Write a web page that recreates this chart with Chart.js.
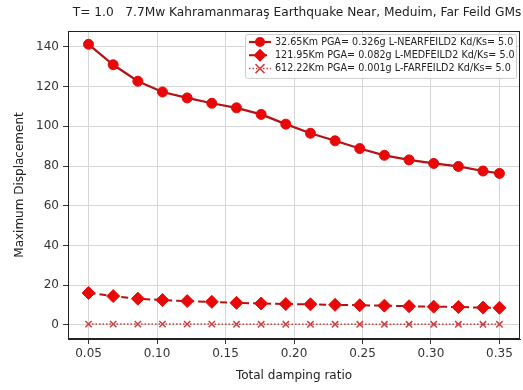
<!DOCTYPE html>
<html>
<head>
<meta charset="utf-8">
<script src="https://cdn.jsdelivr.net/npm/chart.js@4/dist/chart.umd.min.js"></script>
<style>
  html, body { margin: 0; padding: 0; background: #fff; }
  #wrap { width: 523px; height: 390px; }
</style>
</head>
<body>
<div id="wrap"><canvas id="chart" width="523" height="390"></canvas></div>
<script>
// damping ratios used for every record
const dampingRatios = [0.05, 0.068, 0.086, 0.104, 0.122, 0.14, 0.158, 0.176, 0.194,
  0.212, 0.23, 0.248, 0.266, 0.284, 0.302, 0.32, 0.338, 0.35];

// maximum displacement per record
const nearValues = [141.3, 131.0, 122.7, 117.3, 114.3, 111.6, 109.3, 106.0, 101.1,
  96.5, 92.7, 88.8, 85.4, 83.1, 81.3, 79.8, 77.5, 76.3];
const medValues = [16.1, 14.5, 13.2, 12.5, 12.0, 11.6, 11.1, 10.8, 10.5,
  10.4, 10.1, 9.9, 9.7, 9.4, 9.2, 9.0, 8.7, 8.6];
const farValues = [0.4, 0.4, 0.4, 0.4, 0.4, 0.4, 0.3, 0.3, 0.3,
  0.3, 0.3, 0.3, 0.3, 0.3, 0.3, 0.3, 0.3, 0.3];

const seriesLabels = [
  "32.65Km PGA= 0.326g L-NEARFEILD2 Kd/Ks= 5.0",
  "121.95Km PGA= 0.082g L-MEDFEILD2 Kd/Ks= 5.0",
  "612.22Km PGA= 0.001g L-FARFEILD2 Kd/Ks= 5.0",
];

const xTicks = [0.05, 0.10, 0.15, 0.20, 0.25, 0.30, 0.35];
const yTicks = [0, 20, 40, 60, 80, 100, 120, 140];

const chartTitle = "T= 1.0   7.7Mw Kahramanmaraş Earthquake Near, Meduim, Far Feild GMs";
const FONT = "'DejaVu Sans', sans-serif";

function toPoints(values) {
  return dampingRatios.map((x, i) => ({ x: x, y: values[i] }));
}

// box round the axes + title on top
const framePlugin = {
  id: "frame",
  afterDraw(chart) {
    const { ctx, chartArea: a } = chart;
    ctx.save();
    ctx.strokeStyle = "#222";
    ctx.lineWidth = 1;
    ctx.strokeRect(a.left + 0.5, a.top + 0.5, a.right - a.left - 1, a.bottom - a.top - 1);
    ctx.fillStyle = "#222";
    ctx.font = "12.2px " + FONT;
    ctx.textAlign = "center";
    ctx.textBaseline = "middle";
    ctx.fillText(chartTitle, 297, 13);
    ctx.restore();
  },
};

function drawMarker(ctx, style, x, y, r) {
  ctx.beginPath();
  if (style === "circle") {
    ctx.arc(x, y, r, 0, Math.PI * 2);
    ctx.fill();
  } else if (style === "rectRot") {
    ctx.moveTo(x, y - r);
    ctx.lineTo(x + r, y);
    ctx.lineTo(x, y + r);
    ctx.lineTo(x - r, y);
    ctx.closePath();
    ctx.fill();
  } else {
    ctx.moveTo(x - r, y - r);
    ctx.lineTo(x + r, y + r);
    ctx.moveTo(x + r, y - r);
    ctx.lineTo(x - r, y + r);
    ctx.stroke();
  }
}

// legend with line sample and marker, like matplotlib
const legendPlugin = {
  id: "mplLegend",
  afterDraw(chart) {
    const { ctx, chartArea: a } = chart;
    const boxRight = a.right - 4;
    const boxLeft = 245;
    const boxTop = 34;
    const rowH = 13.3;
    const boxH = rowH * 3 + 4;
    ctx.save();
    ctx.fillStyle = "rgba(255,255,255,0.85)";
    ctx.strokeStyle = "#cccccc";
    ctx.lineWidth = 1;
    ctx.beginPath();
    ctx.roundRect(boxLeft + 0.5, boxTop + 0.5, boxRight - boxLeft, boxH, 2);
    ctx.fill();
    ctx.stroke();

    chart.data.datasets.forEach((ds, i) => {
      const y = boxTop + 8 + i * rowH;
      ctx.strokeStyle = ds.borderColor;
      ctx.lineWidth = ds.borderWidth;
      ctx.setLineDash(ds.borderDash || []);
      ctx.beginPath();
      ctx.moveTo(boxLeft + 4, y);
      ctx.lineTo(boxLeft + 26, y);
      ctx.stroke();
      ctx.setLineDash([]);
      ctx.fillStyle = ds.pointBackgroundColor;
      ctx.strokeStyle = ds.pointBorderColor;
      ctx.lineWidth = ds.pointBorderWidth;
      drawMarker(ctx, ds.pointStyle, boxLeft + 15, y, ds.pointRadius);
      ctx.fillStyle = "#222";
      ctx.font = "9.6px " + FONT;
      ctx.textAlign = "left";
      ctx.textBaseline = "middle";
      ctx.fillText(ds.label, boxLeft + 30, y);
    });
    ctx.restore();
  },
};

new Chart(document.getElementById("chart"), {
  type: "line",
  data: {
    datasets: [
      {
        label: seriesLabels[0],
        data: toPoints(nearValues),
        borderColor: "#b01414",
        borderWidth: 2.2,
        pointStyle: "circle",
        pointRadius: 5,
        pointBackgroundColor: "#e80808",
        pointBorderColor: "#e80808",
        pointBorderWidth: 1,
      },
      {
        label: seriesLabels[1],
        data: toPoints(medValues),
        borderColor: "#b01414",
        borderWidth: 2,
        borderDash: [7, 4],
        pointStyle: "rectRot",
        pointRadius: 6.5,
        pointBackgroundColor: "#e80808",
        pointBorderColor: "#e80808",
        pointBorderWidth: 1,
      },
      {
        label: seriesLabels[2],
        data: toPoints(farValues),
        borderColor: "#c83c3c",
        borderWidth: 1.5,
        borderDash: [1.5, 2],
        pointStyle: "crossRot",
        pointRadius: 4.5,
        pointBackgroundColor: "#d04040",
        pointBorderColor: "#d04040",
        pointBorderWidth: 1.5,
      },
    ],
  },
  options: {
    responsive: false,
    animation: false,
    layout: { autoPadding: false, padding: { top: 31, right: 3, bottom: 0, left: 0 } },
    plugins: {
      legend: { display: false },
      title: { display: false },
      tooltip: { enabled: false },
    },
    scales: {
      x: {
        type: "linear",
        min: 0.035,
        max: 0.365,
        afterBuildTicks: (axis) => { axis.ticks = xTicks.map((v) => ({ value: v })); },
        afterFit: (axis) => {
          axis.height = 51;
          axis.paddingLeft = 0;
          axis.paddingRight = 0;
        },
        grid: { color: "#d6d6d6", tickColor: "#333", tickLength: 5, lineWidth: 1 },
        border: { color: "#222" },
        ticks: {
          color: "#333",
          padding: 3,
          maxRotation: 0,
          font: { family: FONT, size: 12 },
          callback: (v) => v.toFixed(2),
        },
        title: {
          display: true,
          text: "Total damping ratio",
          color: "#222",
          font: { family: FONT, size: 12 },
          padding: { top: 0, bottom: 7 },
        },
      },
      y: {
        min: -7.1,
        max: 148,
        afterBuildTicks: (axis) => { axis.ticks = yTicks.map((v) => ({ value: v })); },
        afterFit: (axis) => { axis.width = 68; },
        grid: { color: "#d6d6d6", tickColor: "#333", tickLength: 5, lineWidth: 1 },
        border: { color: "#222" },
        ticks: {
          color: "#333",
          padding: 4,
          font: { family: FONT, size: 12 },
        },
        title: {
          display: true,
          text: "Maximum Displacement",
          color: "#222",
          font: { family: FONT, size: 12 },
          padding: { top: 13, bottom: 0 },
        },
      },
    },
  },
  plugins: [framePlugin, legendPlugin],
});
</script>
</body>
</html>
